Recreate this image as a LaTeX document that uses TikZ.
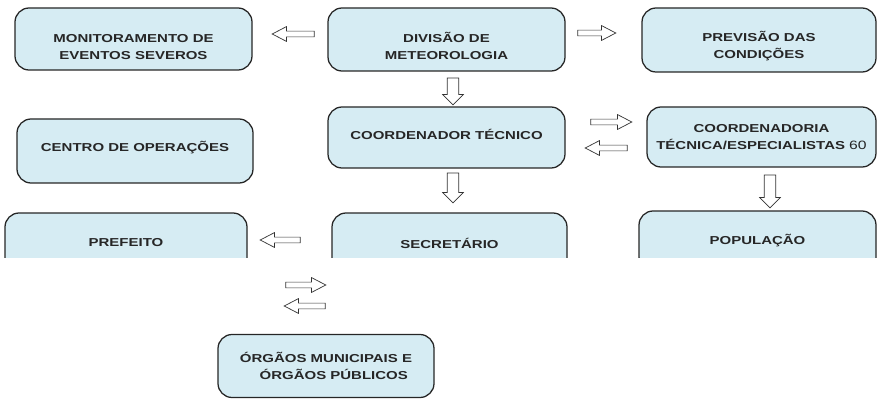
\documentclass[tikz,border=0pt]{standalone}
\usepackage{fontspec}
\setmainfont[FakeStretch=1.3]{Liberation Sans}
\usetikzlibrary{shapes.arrows}
\definecolor{boxfill}{RGB}{214,236,243}
\definecolor{boxtext}{RGB}{38,38,38}
\newcommand{\lowtext}{\rule{0pt}{16.5pt}}
\newcommand{\hightext}[1]{\rule[-#1]{0pt}{#1}}

\begin{document}
\begin{tikzpicture}[x=0.025cm,y=-0.025cm,
    box/.style={draw=black!85,line width=0.9pt,rounded corners=10pt,fill=boxfill,align=center,text=boxtext,font=\fontsize{8.2}{12.1}\selectfont\bfseries,inner sep=0pt},
    harrow/.style={draw=black!80,line width=0.5pt,fill=white,single arrow,inner sep=0pt,inner ysep=1.8pt,single arrow head extend=3.2pt,single arrow tip angle=55,single arrow head indent=0pt,minimum height=#1*0.025cm},
    varrow/.style={harrow=#1,inner sep=3.9pt,single arrow head extend=3.2pt,single arrow tip angle=90,shape border rotate=270}
  ]
    \useasboundingbox (0,0) rectangle (878,399);

    % Top row
    \node[box,minimum width=237*0.025cm,minimum height=62*0.025cm] (mon) at (133.5,39) {\lowtext MONITORAMENTO DE\\EVENTOS SEVEROS};
    \node[box,minimum width=237*0.025cm,minimum height=63*0.025cm] (div) at (446.5,39.5) {\lowtext DIVISÃO DE\\METEOROLOGIA};
    \node[box,minimum width=234*0.025cm,minimum height=64*0.025cm] (prev) at (759,40) {\lowtext PREVISÃO DAS\\CONDIÇÕES};

    % Middle row
    \node[box,minimum width=236*0.025cm,minimum height=64*0.025cm] (cen) at (135,151) {CENTRO DE OPERAÇÕES\hightext{6pt}};
    \node[box,minimum width=237*0.025cm,minimum height=61*0.025cm] (coord) at (446.5,137.5) {COORDENADOR TÉCNICO\hightext{4.5pt}};
    \node[box,minimum width=229*0.025cm,minimum height=60*0.025cm] (coordia) at (761.5,137) {COORDENADORIA\\TÉCNICA/ESPECIALISTAS {\fontsize{8.6}{12}\mdseries 60}};

    % Bottom row (cut off)
    \begin{scope}
      \clip (0,0) rectangle (878,257.5);
      \node[box,minimum width=242*0.025cm,minimum height=60*0.025cm] (pref) at (126,243) {PREFEITO};
      \node[box,minimum width=235*0.025cm,minimum height=60*0.025cm] (sec) at (449.5,243) {SECRETÁRIO};
      \node[box,minimum width=237*0.025cm,minimum height=60*0.025cm] (pop) at (757.5,241) {POPULAÇÃO};
    \end{scope}

    \node[box,minimum width=216*0.025cm,minimum height=63*0.025cm,align=left] (org) at (326,366) {ÓRGÃOS MUNICIPAIS E\\\hspace*{14pt}ÓRGÃOS PÚBLICOS};

    % Block arrows
    \node[harrow=42,shape border rotate=180] (div2mon) at (296,34) {};
    \node[harrow=38] (div2prev) at (594,33) {};
    \node[varrow=27] (div2coord) at (453,88.5) {};
    \node[harrow=41] (coord2coordia) at (608.5,122) {};
    \node[harrow=42,shape border rotate=180] (coordia2coord) at (609,148) {};
    \node[varrow=30] (coord2sec) at (453,185) {};
    \node[varrow=33] (coordia2pop) at (770,188.5) {};
    \node[harrow=40,shape border rotate=180] (sec2pref) at (283,240) {};
    \node[harrow=40] (pref2org) at (303,285) {};
    \node[harrow=41,shape border rotate=180] (org2pref) at (307.5,306) {};
  \end{tikzpicture}
\end{document}
